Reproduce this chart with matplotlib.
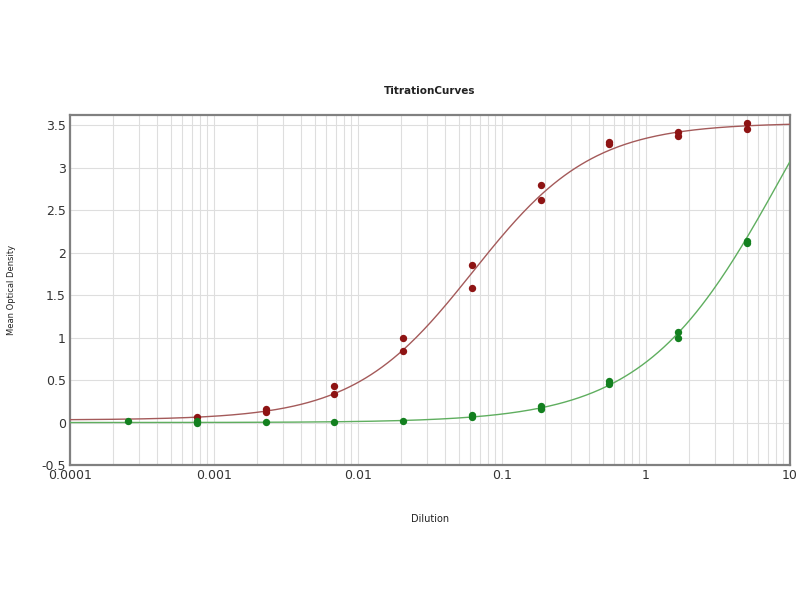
import numpy as np
import matplotlib
matplotlib.use("Agg")
import matplotlib.pyplot as plt
from matplotlib.ticker import FixedLocator, LogLocator, NullFormatter

# Dilutions (3-fold series)
dil = [5.0, 1.667, 0.5556, 0.1852, 0.06173, 0.02058, 0.006859, 0.002286, 0.000762, 0.000254]

# Red series replicates
red_x = [5.0, 5.0, 1.667, 1.667, 0.5556, 0.5556, 0.1852, 0.1852, 0.06173, 0.06173,
         0.02058, 0.02058, 0.006859, 0.006859, 0.002286, 0.002286, 0.000762]
red_y = [3.53, 3.46, 3.42, 3.38, 3.31, 3.28, 2.80, 2.62, 1.86, 1.59,
         1.00, 0.84, 0.43, 0.34, 0.16, 0.13, 0.06]

# Green series replicates
green_x = [5.0, 5.0, 1.667, 1.667, 0.5556, 0.5556, 0.1852, 0.1852, 0.06173, 0.06173,
           0.02058, 0.006859, 0.002286, 0.000762, 0.000762, 0.000254]
green_y = [2.14, 2.12, 1.07, 0.99, 0.49, 0.45, 0.20, 0.16, 0.09, 0.07,
           0.02, 0.01, 0.01, 0.02, 0.0, 0.02]

# 4-parameter logistic fit parameters: bottom, top, EC50, slope
red_fit = [0.03, 3.53, 0.063, 1.05]
green_fit = [0.0, 5.9, 9.1, 0.9]

x_ticks = [0.0001, 0.001, 0.01, 0.1, 1, 10]
x_tick_labels = ["0.0001", "0.001", "0.01", "0.1", "1", "10"]
y_ticks = [-0.5, 0, 0.5, 1, 1.5, 2, 2.5, 3, 3.5]
y_tick_labels = ["-0.5", "0", "0.5", "1", "1.5", "2", "2.5", "3", "3.5"]


def fourpl(x, p):
    b, t, c, h = p
    return b + (t - b) / (1 + (c / x) ** h)


plt.rcParams['font.family'] = ['DejaVu Sans']
fig = plt.figure(figsize=(8, 6), dpi=100)
ax = fig.add_axes([0.0875, 0.225, 0.9, 0.583])

xs = np.logspace(-4, 1, 400)
ax.plot(xs, fourpl(xs, red_fit), color="#a45a5a", lw=1.0, zorder=3)
ax.plot(xs, fourpl(xs, green_fit), color="#5fae5f", lw=1.0, zorder=3)
ax.scatter(red_x, red_y, s=28, color="#8e1414", zorder=4, linewidths=0)
ax.scatter(green_x, green_y, s=28, color="#13801f", zorder=4, linewidths=0)

ax.set_xscale("log")
ax.set_xlim(1e-4, 10)
ax.set_ylim(-0.5, 3.62)

ax.xaxis.set_major_locator(FixedLocator(x_ticks))
ax.set_xticklabels(x_tick_labels)
ax.xaxis.set_minor_locator(LogLocator(base=10, subs=np.arange(2, 10)))
ax.xaxis.set_minor_formatter(NullFormatter())
ax.set_yticks(y_ticks)
ax.set_yticklabels(y_tick_labels)

ax.grid(True, which="both", axis="x", color="#dedede", lw=0.8)
ax.grid(True, which="major", axis="y", color="#dedede", lw=0.8)
ax.set_axisbelow(True)

ax.tick_params(axis="both", which="both", length=0, labelsize=9, colors="#333333", pad=3)
for s in ax.spines.values():
    s.set_color("#808080")
    s.set_linewidth(1.6)

ax.set_title("TitrationCurves", fontsize=7.5, fontweight="bold", color="#222222", pad=15.5)
ax.set_xlabel("Dilution", fontsize=7, color="#222222")
ax.xaxis.set_label_coords(0.5, -0.14)
ax.set_ylabel("Mean Optical Density", fontsize=6, color="#222222")
ax.yaxis.set_label_coords(-0.075, 0.5)

fig.savefig("out.png", dpi=100, facecolor="white")
